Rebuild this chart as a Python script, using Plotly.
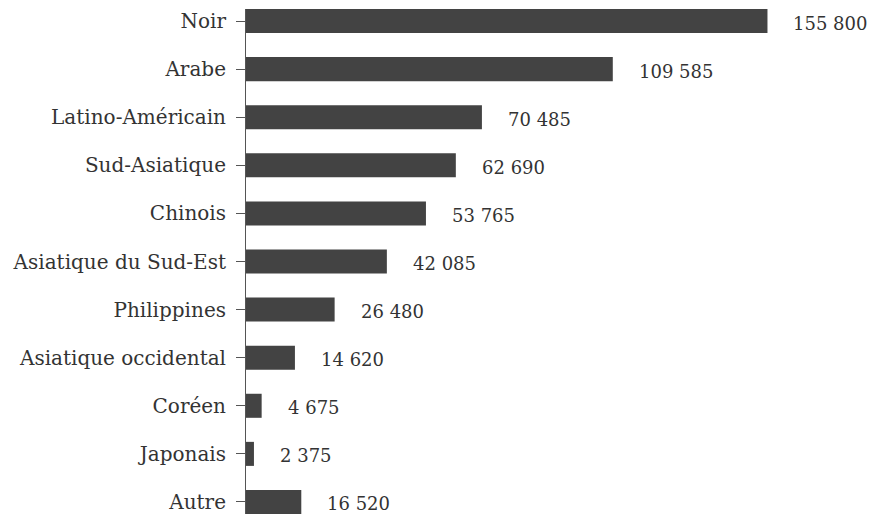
import plotly.graph_objects as go

categories = ["Noir", "Arabe", "Latino-Américain", "Sud-Asiatique", "Chinois",
              "Asiatique du Sud-Est", "Philippines", "Asiatique occidental",
              "Coréen", "Japonais", "Autre"]
values = [155800, 109585, 70485, 62690, 53765, 42085, 26480, 14620, 4675, 2375, 16520]
value_labels = ["155 800", "109 585", "70 485", "62 690", "53 765", "42 085",
                "26 480", "14 620", "4 675", "2 375", "16 520"]

FONT = "DejaVu Serif"
BAR = "#434343"
TXT = "#333333"

fig = go.Figure()
fig.add_trace(go.Bar(
    x=values, y=categories, orientation="h",
    marker=dict(color=BAR, line=dict(width=0)),
    width=0.5, hoverinfo="skip",
))

for c, v, t in zip(categories, values, value_labels):
    fig.add_annotation(x=v, y=c, text=t, showarrow=False, xanchor="left",
                       xshift=24, yshift=-2, font=dict(family=FONT, size=18, color=TXT))

W, H = 873, 514
left, top = 246, 9
fig.update_layout(
    width=W, height=H,
    margin=dict(l=left, r=W - 246 - 569.5, t=top, b=0, pad=0),
    paper_bgcolor="white", plot_bgcolor="white",
    showlegend=False,
    bargap=0.5,
    font=dict(family=FONT, size=20, color=TXT),
)
fig.update_xaxes(range=[0, 170000], visible=False, showgrid=False, zeroline=False)
fig.update_yaxes(
    categoryorder="array", categoryarray=categories,
    range=[10.25, -0.25],
    showline=True, linecolor="#555555", linewidth=1,
    ticks="outside", ticklen=9, tickcolor="#555555", tickwidth=1,
    ticklabelstandoff=6,
    showgrid=False, zeroline=False,
    tickfont=dict(family=FONT, size=20, color=TXT),
)

fig.write_html("out.html", config={"displayModeBar": False},
               post_script="document.body.style.margin='0';document.body.style.overflow='hidden';")
